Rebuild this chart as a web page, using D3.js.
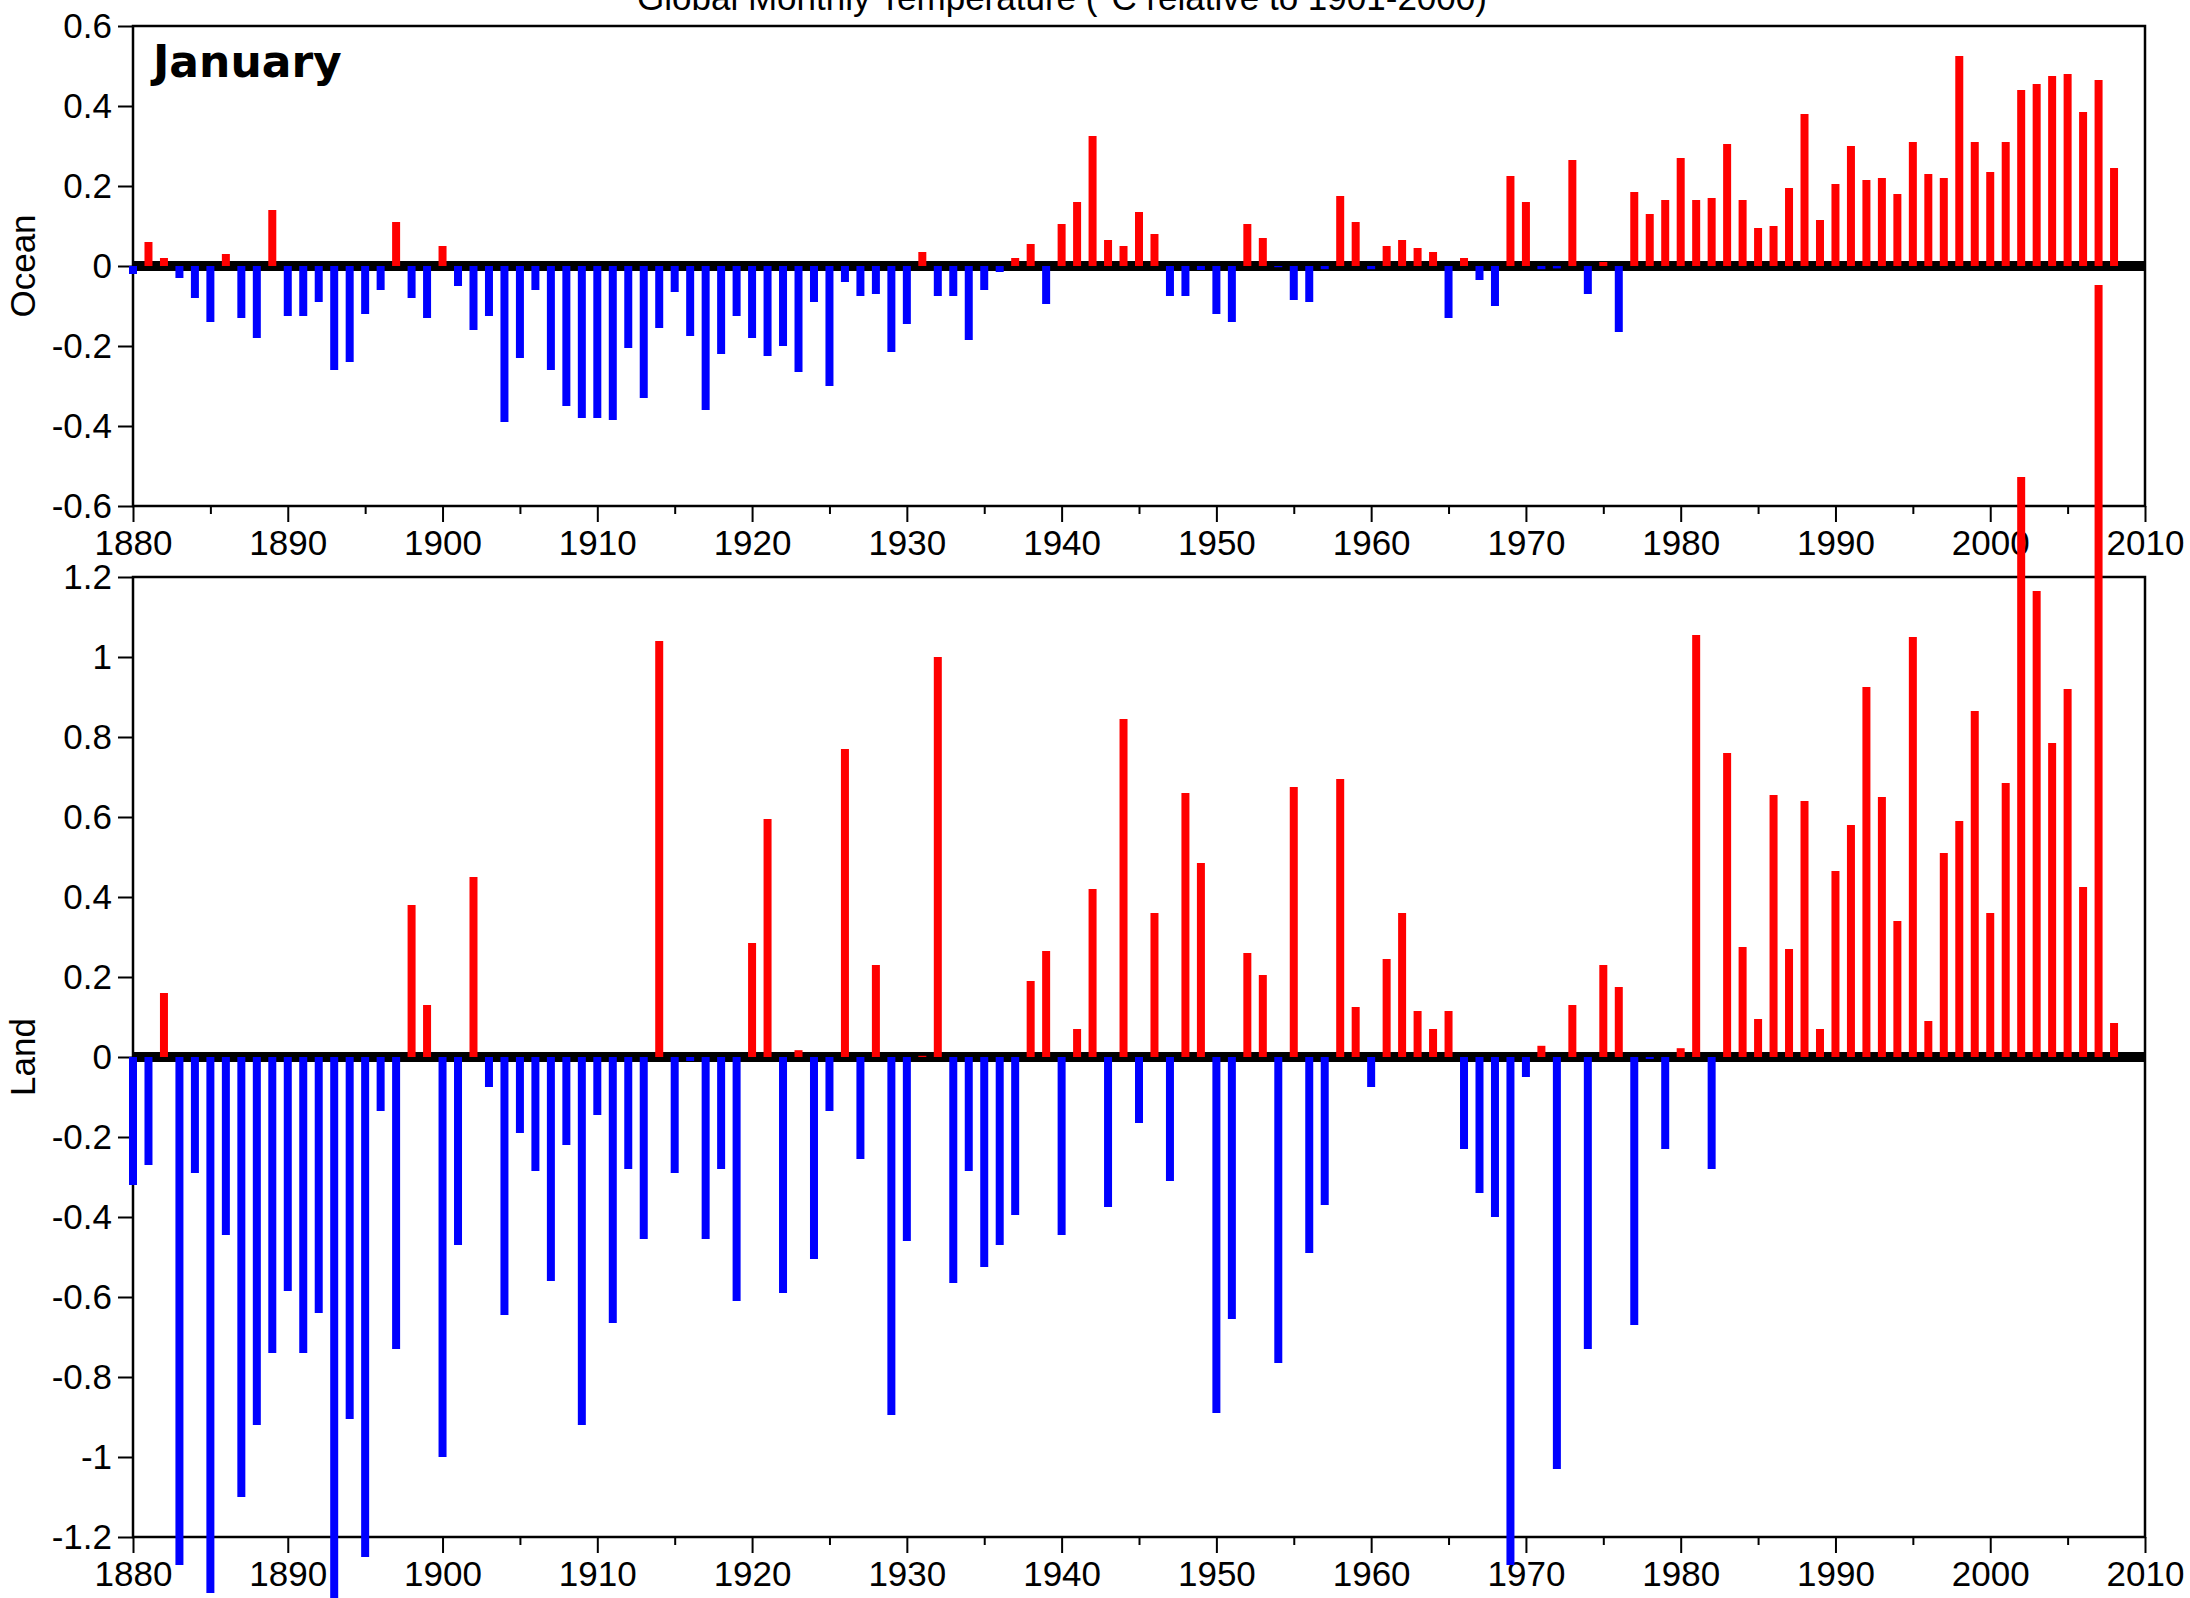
<!DOCTYPE html>
<html>
<head>
<meta charset="utf-8">
<script src="https://cdn.jsdelivr.net/npm/d3@7"></script>
<style>
  body { margin: 0; background: #fff; }
  svg { display: block; }
  text { font-family: "Liberation Sans", Arial, sans-serif; fill: #000; }
</style>
</head>
<body>
<svg width="2190" height="1598"></svg>
<script>
// January anomalies, one value per year starting 1880
var years = d3.range(1880, 2009);

var ocean = [
    -0.02, 0.06, 0.02, -0.03, -0.08, -0.14, 0.03, -0.13, -0.18, 0.14,        // 1880
    -0.125, -0.125, -0.09, -0.26, -0.24, -0.12, -0.06, 0.11, -0.08, -0.13,   // 1890
    0.05, -0.05, -0.16, -0.125, -0.39, -0.23, -0.06, -0.26, -0.35, -0.38,    // 1900
    -0.38, -0.385, -0.205, -0.33, -0.155, -0.065, -0.175, -0.36, -0.22, -0.125, // 1910
    -0.18, -0.225, -0.2, -0.265, -0.09, -0.3, -0.04, -0.075, -0.07, -0.215,  // 1920
    -0.145, 0.035, -0.075, -0.075, -0.185, -0.06, -0.015, 0.02, 0.055, -0.095, // 1930
    0.105, 0.16, 0.325, 0.065, 0.05, 0.135, 0.08, -0.075, -0.075, -0.01,     // 1940
    -0.12, -0.14, 0.105, 0.07, -0.003, -0.085, -0.09, -0.008, 0.175, 0.11,   // 1950
    -0.008, 0.05, 0.065, 0.045, 0.035, -0.13, 0.02, -0.035, -0.1, 0.225,     // 1960
    0.16, -0.008, -0.006, 0.265, -0.07, 0.01, -0.165, 0.185, 0.13, 0.165,    // 1970
    0.27, 0.165, 0.17, 0.305, 0.165, 0.095, 0.1, 0.195, 0.38, 0.115,         // 1980
    0.205, 0.3, 0.215, 0.22, 0.18, 0.31, 0.23, 0.22, 0.525, 0.31,            // 1990
    0.235, 0.31, 0.44, 0.455, 0.475, 0.48, 0.385, 0.465, 0.245               // 2000
];

var land = [
    -0.32, -0.27, 0.16, -1.27, -0.29, -1.34, -0.445, -1.1, -0.92, -0.74,     // 1880
    -0.585, -0.74, -0.64, -1.4, -0.905, -1.25, -0.135, -0.73, 0.38, 0.13,    // 1890
    -1.0, -0.47, 0.45, -0.075, -0.645, -0.19, -0.285, -0.56, -0.22, -0.92,   // 1900
    -0.145, -0.665, -0.28, -0.455, 1.04, -0.29, -0.01, -0.455, -0.28, -0.61, // 1910
    0.285, 0.595, -0.59, 0.017, -0.505, -0.135, 0.77, -0.255, 0.23, -0.895,  // 1920
    -0.46, 0.003, 1.0, -0.565, -0.285, -0.525, -0.47, -0.395, 0.19, 0.265,   // 1930
    -0.445, 0.07, 0.42, -0.375, 0.845, -0.165, 0.36, -0.31, 0.66, 0.485,     // 1940
    -0.89, -0.655, 0.26, 0.205, -0.765, 0.675, -0.49, -0.37, 0.695, 0.125,   // 1950
    -0.075, 0.245, 0.36, 0.115, 0.07, 0.115, -0.23, -0.34, -0.4, -1.27,      // 1960
    -0.05, 0.028, -1.03, 0.13, -0.73, 0.23, 0.175, -0.67, -0.005, -0.23,     // 1970
    0.022, 1.055, -0.28, 0.76, 0.275, 0.095, 0.655, 0.27, 0.64, 0.07,        // 1980
    0.465, 0.58, 0.925, 0.65, 0.34, 1.05, 0.09, 0.51, 0.59, 0.865,           // 1990
    0.36, 0.685, 1.45, 1.165, 0.785, 0.92, 0.425, 1.93, 0.085                // 2000
];

var xMajorTicks = d3.range(1880, 2011, 10);
var xMinorTicks = d3.range(1885, 2010, 10);
var oceanTicks = [0.6, 0.4, 0.2, 0, -0.2, -0.4, -0.6];
var landTicks = [1.2, 1, 0.8, 0.6, 0.4, 0.2, 0, -0.2, -0.4, -0.6, -0.8, -1, -1.2];

var titleText = "Global Monthly Temperature (\u00b0C relative to 1901-2000)";
var monthText = "January";

var svg = d3.select("svg");

var left = 133, right = 2145;
var x = d3.scaleLinear().domain([1880, 2010]).range([left, right]);

var yOcean = d3.scaleLinear().domain([-0.6, 0.6]).range([506, 26]);
var yLand = d3.scaleLinear().domain([-1.2, 1.2]).range([1537, 577]);

var barWidth = 8;

function fmt(d) {
    // hyphen instead of d3's unicode minus
    return String(d);
}

function drawPanel(y, ticks, label) {
    var g = svg.append("g");

    // frame
    g.append("rect")
        .attr("x", left)
        .attr("y", y.range()[1])
        .attr("width", right - left)
        .attr("height", y.range()[0] - y.range()[1])
        .attr("fill", "none")
        .attr("stroke", "#000")
        .attr("stroke-width", 2.5);

    // thick zero line
    g.append("rect")
        .attr("x", left)
        .attr("y", y(0) - 5)
        .attr("width", right - left)
        .attr("height", 10)
        .attr("fill", "#000");

    var yAxis = g.append("g")
        .attr("transform", "translate(" + left + ",0)")
        .call(d3.axisLeft(y).tickValues(ticks).tickSize(15).tickPadding(6).tickFormat(fmt));

    var minor = g.append("g")
        .attr("transform", "translate(0," + y.range()[0] + ")")
        .call(d3.axisBottom(x).tickValues(xMinorTicks).tickSize(8).tickFormat(""));

    var major = g.append("g")
        .attr("transform", "translate(0," + y.range()[0] + ")")
        .call(d3.axisBottom(x).tickValues(xMajorTicks).tickSize(16).tickPadding(8).tickFormat(d3.format("d")));

    [yAxis, minor, major].forEach(function(a) {
        a.select(".domain").remove();
        a.selectAll("line").attr("stroke", "#000").attr("stroke-width", 2);
        a.selectAll("text")
            .style("font-family", "'Liberation Sans', Arial, sans-serif")
            .style("font-size", "35px")
            .attr("fill", "#000");
    });

    g.append("text")
        .attr("transform", "translate(35," + y(0) + ") rotate(-90)")
        .attr("text-anchor", "middle")
        .style("font-size", "35px")
        .text(label);

    return g;
}

function drawBars(values, y) {
    svg.append("g")
      .selectAll("rect")
      .data(values)
      .enter().append("rect")
        .attr("x", function(d, i) { return x(years[i]) - barWidth / 2; })
        .attr("y", function(d) { return Math.min(y(d), y(0)); })
        .attr("width", barWidth)
        .attr("height", function(d) { return Math.abs(y(d) - y(0)); })
        .attr("fill", function(d) { return d >= 0 ? "#ff0000" : "#0000ff"; });
}

drawPanel(yOcean, oceanTicks, "Ocean");
drawBars(ocean, yOcean);

drawPanel(yLand, landTicks, "Land");
// land bars go last, they run past the frame
drawBars(land, yLand);

svg.append("text")
    .attr("x", 637)
    .attr("y", 10)
    .style("font-size", "35px")
    .text(titleText);

svg.append("text")
    .attr("x", 153)
    .attr("y", 77)
    .style("font-family", "'DejaVu Sans', sans-serif")
    .style("font-weight", "bold")
    .style("font-size", "44px")
    .text(monthText);
</script>
</body>
</html>
